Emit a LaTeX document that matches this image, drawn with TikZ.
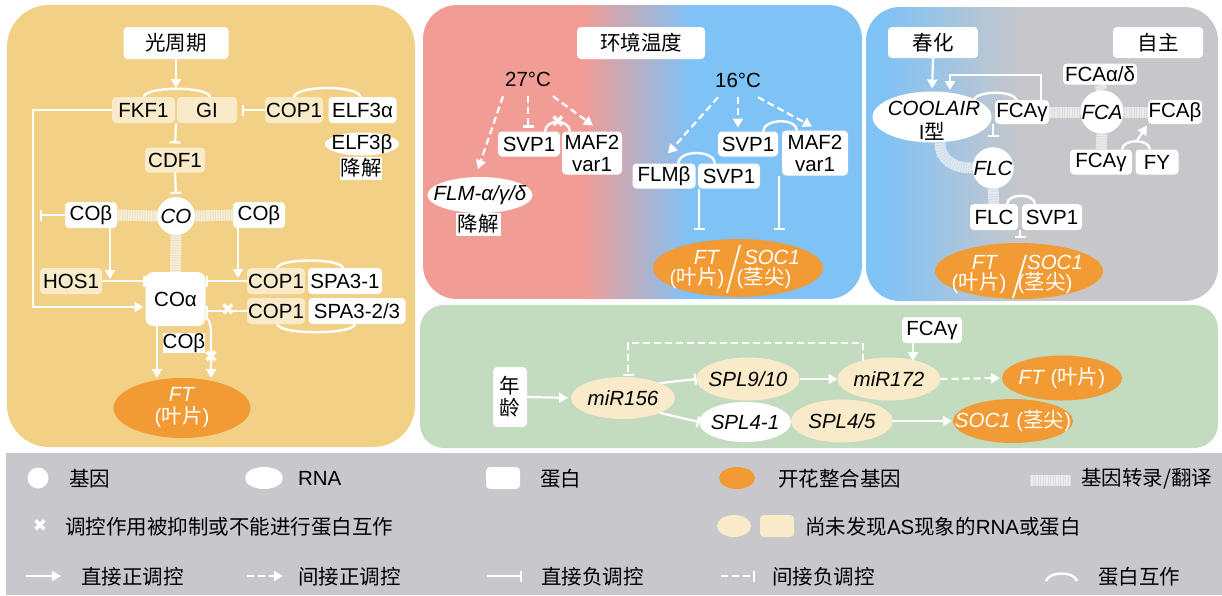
\documentclass[tikz,border=0pt]{standalone}
\usepackage{fontspec}
\setmainfont{Liberation Sans}
\newfontfamily\cjk{Noto Sans CJK SC}
\newfontfamily\djv{DejaVu Sans}
\usetikzlibrary{arrows.meta,shapes.geometric,calc}
\pgfdeclarelayer{bg}
\pgfsetlayers{bg,main}
\definecolor{panelY}{HTML}{F2D186}
\definecolor{pred}{HTML}{F19C95}
\definecolor{pblue}{HTML}{7FC2F6}
\definecolor{pgray}{HTML}{C7C7CB}
\definecolor{pgreen}{HTML}{C3DBBE}
\definecolor{lgray}{HTML}{C8C8CC}
\definecolor{cream}{HTML}{F9EACA}
\definecolor{ftor}{HTML}{F29B35}
\newcommand\fsz{\fontsize{20.5}{22}\selectfont}
\newcommand\zh[1]{{\cjk #1}}
\tikzset{
base/.style={inner sep=0pt, outer sep=0pt, font=\fsz, text=black},
sz/.style 2 args={minimum width=#1pt, minimum height=#2pt},
prot/.style={base, rectangle, fill=white, rounded corners=4pt},
protc/.style={prot, fill=cream},
sq/.style={base, rectangle, fill=white},
gene/.style={base, circle, fill=white},
rna/.style={base, ellipse, fill=white},
rnac/.style={rna, fill=cream},
fto/.style={base, ellipse, fill=ftor},
tx/.style={base},
wt/.style={base, text=white},
lt/.style={base, anchor=west},
xm/.style={base, text=white, font=\djv\fontsize{17}{17}\selectfont},
arr/.style={draw=white, line width=2.2pt, -{Triangle[length=9pt,width=10pt]}},
darr/.style={arr, dash pattern=on 7pt off 4pt},
inh/.style={draw=white, line width=2.2pt, -{Bar[width=11pt,line width=2.2pt]}},
dinh/.style={inh, dash pattern=on 7pt off 4pt},
pp/.style={draw=white, line width=2.4pt},
band/.style={line width=11pt, draw=white, draw opacity=.65, postaction={draw=gray, draw opacity=.12, line width=11pt, dash pattern=on 1pt off 1.5pt}},
}
\begin{document}
\begin{tikzpicture}[x=1pt,y=-1pt]
\useasboundingbox (0,0) rectangle (1222,595);
% ---------------- left panel ----------------
\node[prot, sz={105}{32}] (lp) at (176,43) {\zh{光周期}};
\node[protc, sz={63}{26}] (fkf) at (143.5,110) {FKF1};
\node[protc, sz={60}{26}] (gi) at (207,110) {GI};
\node[protc, sz={58}{26}] (copa) at (294,110) {COP1};
\node[prot, sz={68}{26}] (elfa) at (362.5,110) {ELF3α};
\node[rna, sz={74}{23}] (elfb) at (362,144) {};
\node[tx] (elfbt) at (elfb) {ELF3β};
\node[sq, sz={42}{23}] (elfbd) at (361,168) {\zh{降解}};
\node[protc, sz={60}{25}] (cdf) at (175,160) {CDF1};
\node[gene, minimum size=38pt] (co) at (176,216) {\textit{CO}};
\node[prot, sz={52}{26}] (cobl) at (91,215) {COβ};
\node[prot, sz={52}{26}] (cobr) at (259,215) {COβ};
\node[protc, sz={62}{26}] (hos) at (71,281) {HOS1};
\node[protc, sz={58}{26}] (copb) at (276,281) {COP1};
\node[prot, sz={74}{26}] (spa1) at (345,281) {SPA3-1};
\node[protc, sz={58}{26}] (copc) at (276,311) {COP1};
\node[prot, sz={97}{26}] (spa2) at (357,311) {SPA3-2/3};
\node[prot, sz={60}{54}, rounded corners=8pt] (coa) at (175.5,299) {COα};
\node[sq, sz={42}{20}] (cobb) at (184,343) {COβ};
\node[fto, sz={137}{60}] (ftl) at (182,408) {};
\node[wt, align=center] (ftlt) at (ftl) {\textit{FT}\\(\zh{叶片})};

\coordinate (fgtop) at (176,88);
\coordinate (fgbot) at (176,123);
\draw[arr] (lp.south) -- (fgtop);
\draw[pp] (fkf.north) .. controls +(2,-11) and +(-2,-11) .. ($(gi.north)+(3,0)$);
\draw[pp] (copa.north) .. controls +(2,-12) and +(-2,-12) .. ($(elfa.north)+(-2,0)$);
\draw[inh, shorten >=5pt] (copa.west) -- (gi.east);
\draw[inh, shorten >=4pt] (fgbot) -- (cdf.north);
\draw[inh, shorten >=3pt] (cdf.south) -- (co.north);
\coordinate (coblend) at (40,215);
\draw[inh] (cobl.west) -- (coblend);
\coordinate (fkin) at ($(coa.west)+(-2,8)$);
\draw[arr] (fkf.west) -- ++(-79,0) |- (fkin);
\coordinate (hosln) at (110,279);
\draw[arr] ($(cobl.south east)+(-7,0)$) -- (hosln);
\draw[inh] (hos.east) -- (hos.east -| coa.west);
\coordinate (copln) at (238,278);
\draw[arr] ($(cobr.south)+(-21,0)$) -- (copln);
\draw[pp] ($(copb.north)+(1,0)$) .. controls +(2,-10) and +(-2,-10) .. ($(spa1.north)+(-2,0)$);
\draw[inh] (copb.west) -- (copb.west -| coa.east);
\draw[pp] ($(copc.south)+(1,0)$) .. controls +(2,11) and +(-2,11) .. ($(spa2.south)+(-2,0)$);
\draw[inh] (copc.west) -- (copc.west -| coa.east);
\node[xm] (x1) at (228,310) {✖};
\coordinate (coft1) at (157,378);
\draw[arr] ($(coa.south)+(-18.5,0)$) -- (coft1);
\coordinate (coft2) at (211,378);
\draw[arr] ($(coa.south east)+(0,-8)$) .. controls +(6,1) and +(0,-10) .. (211,342) -- (coft2);
\node[xm] (x2) at (211,357) {✖};

% ---------------- middle panel ----------------
\node[prot, sz={128}{32}] (env) at (641,43) {\zh{环境温度}};
\node[tx] (t27) at (528,79) {27°C};
\node[tx] (t16) at (738,80) {16°C};
\node[prot, sz={62}{25}] (svpa) at (529,144) {SVP1};
\node[prot, sz={60}{43}, align=center] (mafa) at (592,153) {MAF2\\var1};
\node[rna, sz={105}{36}] (flm) at (480,195) {};
\node[tx] (flmt) at (flm) {\textit{FLM-α/γ/δ}};
\node[sq, sz={45}{23}] (flmd) at (478,224) {\zh{降解}};
\node[prot, sz={60}{25}] (svpb) at (748,144) {SVP1};
\node[prot, sz={66}{45}, align=center] (mafb) at (815,153) {MAF2\\var1};
\node[prot, sz={63}{25}] (flmb) at (664,176) {FLMβ};
\node[prot, sz={62}{25}] (svpc) at (729,176) {SVP1};
\node[fto, sz={170}{58}] (ftm) at (738,268) {};
\node[wt] (ftm1) at (707,257) {\textit{FT}};
\node[wt] (ftm2) at (697,278) {(\zh{叶片})};
\node[wt] (ftm3) at (772,257) {\textit{SOC1}};
\node[wt] (ftm4) at (764,278) {(\zh{茎尖})};
\draw[white, line width=1.8pt] (740,245) -- (727,293);

\draw[darr] ($(t27.south)+(-25,10)$) -- ($(flm.north)+(-2,-8)$);
\draw[dinh] ($(t27.south)+(0,10)$) -- ($(svpa.north)+(-1,-4)$);
\draw[darr] ($(t27.south)+(25,10)$) -- ($(mafa.north)+(1,-6)$);
\draw[pp] ($(svpa.north)+(16,0)$) .. controls +(1,-13) and +(-1,-13) .. ($(mafa.north)+(-22,0)$);
\node[xm] (x3) at (558,122) {✖};
\draw[darr] ($(t16.south)+(-20,10)$) -- ($(flmb.north)+(4,-10)$);
\draw[darr] ($(t16.south)+(0,10)$) -- ($(svpb.north)+(-10,-4)$);
\draw[darr] ($(t16.south)+(20,10)$) -- ($(mafb.north)+(-3,-4)$);
\draw[pp] ($(svpb.north)+(15,0)$) .. controls +(1,-13) and +(-1,-13) .. ($(mafb.north)+(-18,0)$);
\draw[pp] ($(flmb.north)+(14,0)$) .. controls +(1,-14) and +(-1,-14) .. ($(svpc.north)+(-14,0)$);
\coordinate (svcs) at ($(svpc.south west)+(1,0)$);
\draw[inh, shorten >=9pt] (svcs) -- (svcs |- ftm.north);
\coordinate (mafs) at ($(mafb.south west)+(-3,0)$);
\draw[inh, shorten >=9pt] (mafs) -- (mafs |- ftm.north);

% ---------------- right panel ----------------
\node[prot, sz={90}{31}] (vern) at (933,42.5) {\zh{春化}};
\node[prot, sz={90}{31}] (autn) at (1158,42.5) {\zh{自主}};
\node[rna, sz={119}{51}] (cool) at (932,117) {};
\node[tx] (coolt1) at (934,108) {\textit{COOLAIR}};
\node[tx] (coolt2) at (932,131) {I\zh{型}};
\node[prot, sz={54}{24}] (fcag) at (1022,112) {FCAγ};
\node[gene, minimum size=40pt] (fca) at (1102,112) {\textit{FCA}};
\node[prot, sz={74}{21}] (fcaad) at (1100,74) {FCAα/δ};
\node[prot, sz={54}{24}] (fcab) at (1175,112) {FCAβ};
\node[prot, sz={62}{25}] (fcag2) at (1101,162) {FCAγ};
\node[prot, sz={43}{25}] (fy) at (1157,162) {FY};
\node[gene, minimum size=40pt] (flc) at (993,168) {\textit{FLC}};
\node[prot, sz={48}{26}] (flcp) at (994,217) {FLC};
\node[prot, sz={60}{26}] (svpd) at (1052,217) {SVP1};
\node[fto, sz={168}{56}] (ftr) at (1019,271) {};
\node[wt] (ftr1) at (985,262) {\textit{FT}};
\node[wt] (ftr2) at (979,283) {(\zh{叶片})};
\node[wt] (ftr3) at (1055,262) {\textit{SOC1}};
\node[wt] (ftr4) at (1045,283) {(\zh{茎尖})};
\draw[white, line width=1.8pt] (1026,255) -- (1013,298);

\draw[arr, shorten >=3pt] (vern.south) -- (cool.north);
\draw[pp] (cool.north east) .. controls +(5,-8) and +(-5,-10) .. ($(fcag.north)+(-5,0)$);
\coordinate (coolin) at (950,90);
\draw[arr] ($(fcag.north east)+(-8,0)$) |- ($(coolin)+(0,-15)$) -- (coolin);
\coordinate (arcpk) at (1136,142);
\draw[pp] ($(fcag2.north)+(21,0)$) .. controls +(1,-11) and +(-1,-11) .. ($(fy.north)+(-7,0)$);
\draw[arr, shorten >=2pt] (arcpk) -- (fcab.south west);
\coordinate (inhs) at ($(fcag.south west)+(-2,0)$);
\coordinate (inhe) at ($(flc.north)+(0,-10)$);
\draw[inh] (inhs) -- (inhe);
\draw[pp] ($(flcp.north)+(13,0)$) .. controls +(1,-11) and +(-1,-11) .. ($(svpd.north)+(-17,0)$);
\coordinate (flis) at ($(flcp.south east)+(2,0)$);
\draw[inh, shorten >=5pt] (flis) -- (flis |- ftr.north);

% ---------------- green panel ----------------
\node[prot, sz={34}{60}, align=center] (age) at (510,397) {\zh{年}\\\zh{龄}};
\node[rnac, sz={104}{42}] (m156) at (623,398) {};
\node[tx] (m156t) at (m156) {\textit{miR156}};
\node[rnac, sz={103}{43}] (spl910) at (748,379) {};
\node[tx] (spl910t) at (spl910) {\textit{SPL9/10}};
\node[rna, sz={92}{40}] (spl41) at (745,422) {};
\node[tx] (spl41t) at (spl41) {\textit{SPL4-1}};
\node[rnac, sz={103}{43}] (m172) at (889,379) {};
\node[tx] (m172t) at (m172) {\textit{miR172}};
\node[prot, sz={60}{26}] (fcag3) at (932,330) {FCAγ};
\node[fto, sz={120}{45}] (ftg) at (1062,378) {};
\node[wt] (ftgt) at (ftg) {\textit{FT} (\zh{叶片})};
\node[rnac, sz={102}{43}] (spl45) at (842,421) {};
\node[tx] (spl45t) at (spl45) {\textit{SPL4/5}};
\node[fto, sz={120}{44}] (socg) at (1013,421) {};
\node[wt] (socgt) at (socg) {\textit{SOC1} (\zh{茎尖})};

\draw[arr, shorten >=3pt] (age.east) -- (m156.west);
\coordinate (d172) at (863,361);
\coordinate (d156) at (628,376);
\draw[dinh] (d172) -- ++(0,-18) -| (d156);
\draw[inh] (m156.north east) -- (spl910.west);
\draw[inh] (m156.south east) -- (spl41.west);
\draw[arr] (spl910.east) -- (m172.west);
\coordinate (fc3in) at (913,361);
\draw[arr] ($(fcag3.south)+(-19,0)$) -- (fc3in);
\draw[darr, shorten >=2pt] (m172.east) -- (ftg.west);
\draw[arr, shorten >=1pt] (spl45.east) -- (socg.west);

% ---------------- legend ----------------
\node[gene, minimum size=21pt] (lg1) at (38,478) {};
\node[lt] (lt1) at (69,479) {\zh{基因}};
\node[rna, sz={38}{22}] (lg2) at (264,478) {};
\node[lt] (lt2) at (298,478) {RNA};
\node[prot, sz={34}{22}] (lg3) at (503,478) {};
\node[lt] (lt3) at (540,479) {\zh{蛋白}};
\node[fto, sz={36}{22}] (lg4) at (737,478) {};
\node[lt] (lt4) at (778,479) {\zh{开花整合基因}};
\coordinate (lg5a) at (1030,480);
\coordinate (lg5b) at (1071,480);
\node[lt] (lt5) at (1081,479) {\zh{基因转录/翻译}};
\node[xm] (lx) at (40,526) {✖};
\node[lt] (lt6) at (65,527) {\zh{调控作用被抑制或不能进行蛋白互作}};
\node[rnac, sz={34}{22}] (lg7) at (734,526) {};
\node[protc, sz={34}{22}] (lg8) at (777,526) {};
\node[lt] (lt7) at (805,527) {\zh{尚未发现}AS\zh{现象的}RNA\zh{或蛋白}};
\coordinate (la1) at (26,576); \coordinate (lb1) at (61,576);
\draw[arr] (la1) -- (lb1);
\node[lt] (lt8) at (81,577) {\zh{直接正调控}};
\coordinate (la2) at (247,576); \coordinate (lb2) at (283,576);
\draw[darr] (la2) -- (lb2);
\node[lt] (lt9) at (298,577) {\zh{间接正调控}};
\coordinate (la3) at (487,576); \coordinate (lb3) at (522,576);
\draw[inh] (la3) -- (lb3);
\node[lt] (lt10) at (541,577) {\zh{直接负调控}};
\coordinate (la4) at (721,576); \coordinate (lb4) at (755,576);
\draw[dinh] (la4) -- (lb4);
\node[lt] (lt11) at (772,577) {\zh{间接负调控}};
\coordinate (la5) at (1046,581); \coordinate (lb5) at (1077,581);
\draw[pp] (la5) .. controls +(3,-10) and +(-3,-10) .. (lb5);
\node[lt] (lt12) at (1098,577) {\zh{蛋白互作}};

% ---------------- background layer ----------------
\begin{pgfonlayer}{bg}
\fill[white] (0,0) rectangle (1222,595);
\fill[panelY, rounded corners=42pt] (7,5) rectangle (415,447);
\begin{scope}
\clip[rounded corners=34pt] (423,5) rectangle (862,299);
\fill[pred] (423,5) rectangle (584,299);
\shade[left color=pred, right color=pblue] (583,5) rectangle (691,299);
\fill[pblue] (690,5) rectangle (862,299);
\end{scope}
\begin{scope}
\clip[rounded corners=34pt] (866,7) rectangle (1218,301);
\fill[pblue] (866,7) rectangle (882,301);
\shade[left color=pblue, right color=pgray] (881,7) rectangle (1022,301);
\fill[pgray] (1021,7) rectangle (1218,301);
\end{scope}
\fill[pgreen, rounded corners=24pt] (420,305) rectangle (1218,448);
\fill[lgray] (6,453) rectangle (1222,595);
\draw[band] (cobl.east) -- (co.west);
\draw[band] (co.east) -- (cobr.west);
\draw[band] (co.south) -- (coa.north);
\draw[band] (fcag.east) -- (fca.west);
\draw[band] (fca.north) -- (fcaad.south);
\draw[band] (fca.east) -- (fcab.west);
\draw[band] (fca.south) -- (fcag2.north);
\draw[band] ($(cool.south)+(8,0)$) .. controls +(0,18) and +(-18,0) .. (flc.west);
\draw[band] (flc.south) -- (flcp.north);
\draw[band] (lg5a) -- (lg5b);
\end{pgfonlayer}
\end{tikzpicture}
\end{document}
